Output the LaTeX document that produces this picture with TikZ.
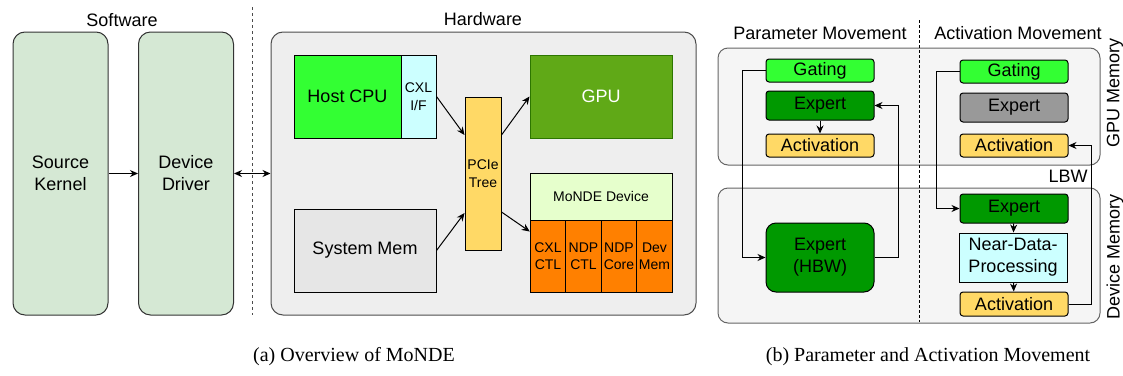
\documentclass[tikz,border=0pt]{standalone}
\usepackage{fontspec}
\setmainfont{Liberation Sans}
\newfontfamily\capfont{Liberation Serif}
\usetikzlibrary{arrows.meta}

\definecolor{swgreen}{HTML}{D5E8D4}
\definecolor{hwgray}{HTML}{EEEEEE}
\definecolor{memgray}{HTML}{F5F5F5}
\definecolor{cpugreen}{HTML}{33FF33}
\definecolor{ifcyan}{HTML}{CCFFFF}
\definecolor{treeyellow}{HTML}{FFD966}
\definecolor{gpugreen}{HTML}{60A917}
\definecolor{gpuedge}{HTML}{2D7600}
\definecolor{devlight}{HTML}{E6FFCC}
\definecolor{devorange}{HTML}{FF8000}
\definecolor{sysgray}{HTML}{E6E6E6}
\definecolor{expgreen}{HTML}{009900}
\definecolor{expgray}{HTML}{999999}

\begin{document}
\begin{tikzpicture}[x=1pt,y=-1pt,line width=1pt]
\tikzstyle{big}=[font=\fontsize{18}{22}\selectfont]
\tikzstyle{small}=[font=\fontsize{14}{17.5}\selectfont]
\tikzstyle{caption}=[font=\capfont\fontsize{20}{24}\selectfont]
\tikzstyle{swbox}=[draw=black!80,fill=swgreen,rounded corners=12pt,minimum width=95pt,minimum height=283pt,inner sep=0pt,align=center,big]
\tikzstyle{hwpart}=[draw=black,inner sep=0pt,align=center]
\tikzstyle{cell}=[hwpart,fill=devorange,minimum width=35.5pt,minimum height=72pt,small]
\tikzstyle{memarea}=[draw=black!60,fill=memgray,rounded corners=10pt,minimum width=382pt]
\tikzstyle{layer}=[draw=black,rounded corners=3pt,minimum width=108pt,inner sep=0pt,align=center,big]
\tikzstyle{arr}=[-{Stealth[length=8pt,width=7pt]}]

\useasboundingbox (0,0) rectangle (1123,375);

% (a) overview
\node[big] (swlabel) at (122,20) {Software};
\node[big] (hwlabel) at (483,19) {Hardware};

\node[swbox] (kernel) at (60.5,173.5) {Source\\Kernel};
\node[swbox] (driver) at (186,173.5) {Device\\Driver};

\draw[black!70,dash pattern=on 3pt off 3pt] (252,7) -- (252,315);

\node[draw=black!70,fill=hwgray,rounded corners=12pt,minimum width=425pt,minimum height=283pt] (hw) at (483.5,173.5) {};

\node[hwpart,fill=cpugreen,minimum width=107pt,minimum height=83pt,big] (cpu) at (347.5,96.5) {Host CPU};
\node[hwpart,fill=ifcyan,minimum width=35pt,minimum height=83pt,small] (cxlif) at (418.5,96.5) {CXL\\I/F};
\node[hwpart,fill=sysgray,minimum width=142pt,minimum height=83pt,big] (sysmem) at (365,250.5) {System Mem};
\node[hwpart,fill=treeyellow,minimum width=36pt,minimum height=153pt,small] (pcie) at (483,173.5) {PCIe\\Tree};
\node[hwpart,draw=gpuedge,fill=gpugreen,text=white,minimum width=142pt,minimum height=83pt,big] (gpu) at (601,96.5) {GPU};
\node[hwpart,fill=devlight,minimum width=142pt,minimum height=47pt,small] (monde) at (601,196.5) {MoNDE Device};

\node[cell] (cxlctl) at (548,256) {CXL\\CTL};
\node[cell] (ndpctl) at (583.5,256) {NDP\\CTL};
\node[cell] (ndpcore) at (619,256) {NDP\\Core};
\node[cell] (devmem) at (654.5,256) {Dev\\Mem};

\draw[arr] (kernel) -- (driver);
\draw[{Stealth[length=8pt,width=7pt]}-{Stealth[length=8pt,width=7pt]}] (driver.east) -- (hw.west);

\draw[arr] (cxlif.east) -- ([yshift=38.5pt]pcie.west);
\draw[arr] (sysmem.east) -- ([yshift=-39.5pt]pcie.west);
\draw[arr] ([yshift=38.5pt]pcie.east) -- (gpu.west);
\draw[arr] ([yshift=-38.5pt]pcie.east) -- ([yshift=-12pt]cxlctl.north west);

\node[caption] (capa) at (354,357) {(a) Overview of MoNDE};

% (b) movement
\node[big] (parlabel) at (820,33) {Parameter Movement};
\node[big] (actlabel) at (1018,33) {Activation Movement};

\node[memarea,minimum height=117pt] (gmem) at (909,106.5) {};
\node[memarea,minimum height=135pt] (dmem) at (909,255.5) {};

\draw[dash pattern=on 3pt off 2pt] (919,20) -- (919,322);

\node[big,rotate=90] (gmemlabel) at (1115,93) {GPU Memory};
\node[big,rotate=90] (dmemlabel) at (1115,257) {Device Memory};
\node[big] (lbw) at (1068,176) {LBW};

\node[layer,fill=cpugreen,minimum height=23pt] (pgate) at (820,70.5) {Gating};
\node[layer,fill=expgreen,minimum height=29pt] (pexp) at (820,105.5) {Expert};
\node[layer,fill=treeyellow,minimum height=23pt] (pact) at (820,145.5) {Activation};
\node[layer,fill=expgreen,rounded corners=10pt,minimum height=69pt] (phbw) at (820,257.5) {Expert\\(HBW)};

\node[layer,fill=cpugreen,minimum height=23pt] (agate) at (1014,71.5) {Gating};
\node[layer,fill=expgray,minimum height=29pt] (aexp) at (1014,107.5) {Expert};
\node[layer,fill=treeyellow,minimum height=23pt] (aact) at (1014,145.5) {Activation};
\node[layer,fill=expgreen,minimum height=29pt] (dexp) at (1014,208.5) {Expert};
\node[layer,fill=ifcyan,rounded corners=0pt,minimum height=49pt] (ndp) at (1013,257.5) {Near-Data-\\Processing};
\node[layer,fill=treeyellow,minimum height=24pt] (dact) at (1014,304) {Activation};

\draw[arr] (pgate.west) -- ++(-23,0) |- (phbw.west);
\draw[arr] (phbw.east) -- ++(24,0) |- (pexp.east);
\draw[arr] (pexp) -- (pact);

\draw[arr] (agate.west) -- ++(-23,0) |- (dexp.west);
\draw[arr] (dact.east) -- ++(23,0) |- (aact.east);
\draw[arr] (dexp) -- (ndp);
\draw[arr] (ndp) -- (dact);

\node[caption] (capb) at (928,357) {(b) Parameter and Activation Movement};

\end{tikzpicture}
\end{document}
